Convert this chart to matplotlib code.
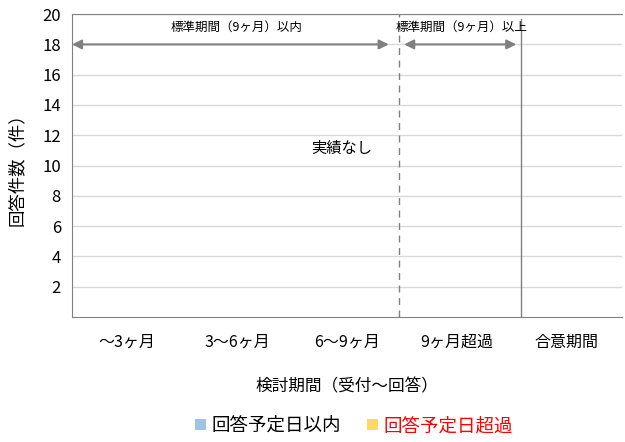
import numpy as np
import matplotlib
matplotlib.use("Agg")
import matplotlib.pyplot as plt

plt.rcParams['font.family'] = ['Noto Sans CJK JP', 'DejaVu Sans']

# categories and data (no results in any period)
categories = ['〜3ヶ月', '3〜6ヶ月', '6〜9ヶ月', '9ヶ月超過', '合意期間']
within_due = [0, 0, 0, 0, 0]
over_due = [0, 0, 0, 0, 0]
y_ticks = [2, 4, 6, 8, 10, 12, 14, 16, 18, 20]

fig = plt.figure(figsize=(6.25, 4.42), dpi=100)
ax = fig.add_axes([0.1152, 0.283, 0.8798, 0.685])

x = np.arange(len(categories))
w = 0.35
ax.bar(x - w / 2, within_due, w, color='#9DC3E6', label='回答予定日以内')
ax.bar(x + w / 2, over_due, w, color='#FFD966', label='回答予定日超過')

ax.set_xlim(-0.5, 4.5)
ax.set_ylim(0, 20)
ax.set_yticks(y_ticks)
ax.set_xticks(x)
ax.set_xticklabels(categories, fontsize=11.5)
ax.tick_params(axis='both', length=0)
ax.tick_params(axis='x', pad=12)
ax.tick_params(axis='y', labelsize=12, pad=8)
ax.yaxis.grid(True, color='#D9D9D9', linewidth=1)
ax.set_axisbelow(True)

for side in ['left', 'bottom', 'top']:
    ax.spines[side].set_color('#808080')
ax.spines['right'].set_visible(False)

ax.set_ylabel('回答件数（件）', fontsize=12.5, labelpad=12)
ax.set_xlabel('検討期間（受付〜回答）', fontsize=12, labelpad=20)

# period separators
ax.axvline(2.47, color='#808080', linestyle=(0, (5, 4)), linewidth=1)
ax.plot([3.58, 3.58], [0, 19.7], color='#808080', linewidth=1)

# arrows for standard period
arrow_kw = dict(arrowstyle='<|-|>', color='#808080', lw=1.5, mutation_scale=14,
                shrinkA=0, shrinkB=0)
ax.annotate('', xy=(-0.5, 18), xytext=(2.38, 18), arrowprops=arrow_kw)
ax.annotate('', xy=(2.52, 18), xytext=(3.54, 18), arrowprops=arrow_kw)
ax.text(1.0, 19.1, '標準期間（9ヶ月）以内', fontsize=9, ha='center', va='center')
ax.text(3.04, 19.1, '標準期間（9ヶ月）以上', fontsize=9, ha='center', va='center')

ax.text(1.95, 11.15, '実績なし', fontsize=11, ha='center', va='center')

leg = fig.legend(loc='lower center', bbox_to_anchor=(0.566, -0.022), ncol=2,
                 frameon=False, fontsize=13.3, handlelength=0.6, handleheight=0.6,
                 handletextpad=0.3, columnspacing=1.4)
leg.get_texts()[1].set_color('red')

fig.savefig('out.png', dpi=100)
